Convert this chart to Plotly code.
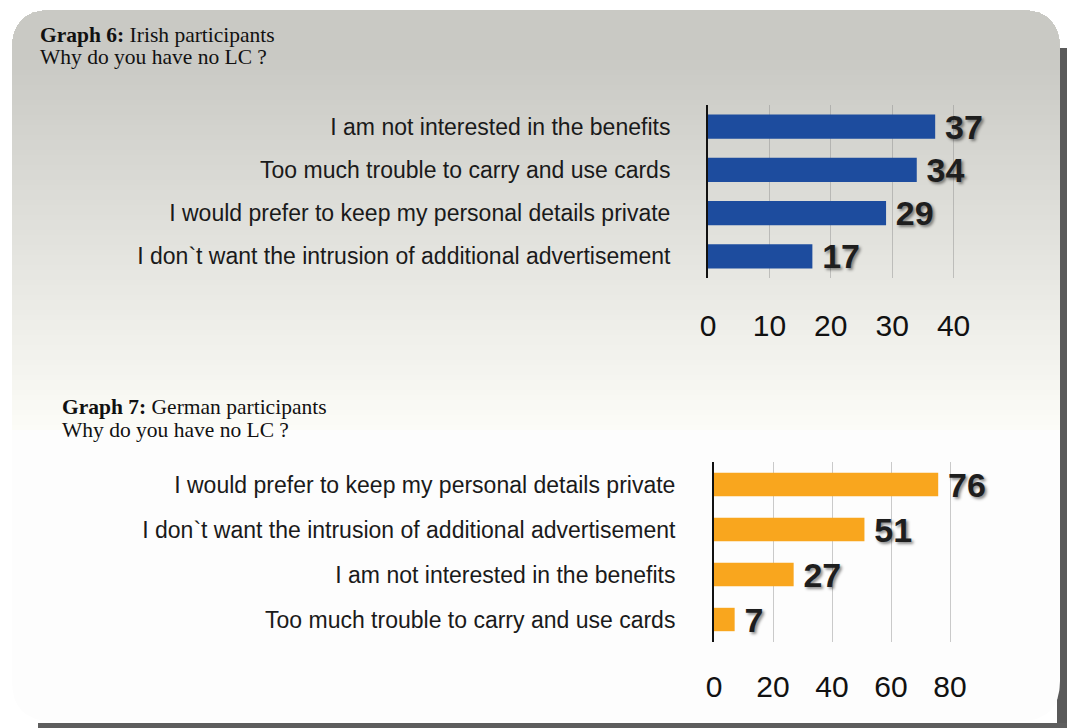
import plotly.graph_objects as go
import numpy as np

# ---- data ----
irish_reasons = [
    "I am not interested in the benefits",
    "Too much trouble to carry and use cards",
    "I would prefer to keep my personal details private",
    "I don`t want the intrusion of additional advertisement",
]
irish_values = [37, 34, 29, 17]
irish_ticks = [0, 10, 20, 30, 40]

german_reasons = [
    "I would prefer to keep my personal details private",
    "I don`t want the intrusion of additional advertisement",
    "I am not interested in the benefits",
    "Too much trouble to carry and use cards",
]
german_values = [76, 51, 27, 7]
german_ticks = [0, 20, 40, 60, 80]

W, H = 1067, 728


def fx(px):
    return px / W


def fy(py):
    return 1 - py / H


BLUE = "#1d4c9e"
ORANGE = "#f9a61e"
SANS = "Liberation Sans, Arial, sans-serif"
SERIF = "Liberation Serif, Times New Roman, serif"

valfont = dict(family=SANS, size=34, color="#1e1e1e", weight="bold",
               shadow="2px 2px 3px rgba(0,0,0,0.45)")

fig = go.Figure()

fig.add_trace(go.Bar(
    x=irish_values, y=irish_reasons, orientation="h",
    marker=dict(color=BLUE, line=dict(width=0)), width=0.56,
    text=irish_values, texttemplate="\u2009%{x}", textposition="outside",
    constraintext="none", cliponaxis=False, textfont=valfont,
    xaxis="x", yaxis="y", showlegend=False, hoverinfo="x+y",
))
fig.add_trace(go.Bar(
    x=german_values, y=german_reasons, orientation="h",
    marker=dict(color=ORANGE, line=dict(width=0)), width=0.52,
    text=german_values, texttemplate="\u2009%{x}", textposition="outside",
    constraintext="none", cliponaxis=False, textfont=valfont,
    xaxis="x2", yaxis="y2", showlegend=False, hoverinfo="x+y",
))

grid = "rgba(140,140,140,0.45)"
tickfont = dict(family=SANS, size=30, color="#111111")
catfont = dict(family=SANS, size=23, color="#1a1a1a")

fig.update_layout(
    width=W, height=H,
    margin=dict(l=0, r=0, t=0, b=0, autoexpand=False),
    paper_bgcolor="white", plot_bgcolor="rgba(0,0,0,0)",
    xaxis=dict(domain=[fx(708), fx(1015)], range=[0, 50], automargin=False,
               tickvals=irish_ticks, showgrid=True, gridcolor=grid, gridwidth=1,
               zeroline=False, showline=False,
               ticks="outside", ticklen=21, tickcolor="rgba(0,0,0,0)",
               tickfont=tickfont, anchor="y"),
    yaxis=dict(domain=[fy(278), fy(105)], range=[3.5, -0.5], automargin=False,
               categoryorder="array", categoryarray=irish_reasons,
               showline=True, linecolor="#111111", linewidth=2,
               showgrid=False, ticks="outside", ticklen=31,
               tickcolor="rgba(0,0,0,0)", tickfont=catfont, anchor="x"),
    xaxis2=dict(domain=[fx(714), fx(1009)], range=[0, 100], automargin=False,
                tickvals=german_ticks, showgrid=True, gridcolor=grid, gridwidth=1,
                zeroline=False, showline=False,
                ticks="outside", ticklen=18, tickcolor="rgba(0,0,0,0)",
                tickfont=tickfont, anchor="y2"),
    yaxis2=dict(domain=[fy(642), fy(462)], range=[3.5, -0.5], automargin=False,
                categoryorder="array", categoryarray=german_reasons,
                showline=True, linecolor="#111111", linewidth=2,
                showgrid=False, ticks="outside", ticklen=32,
                tickcolor="rgba(0,0,0,0)", tickfont=catfont, anchor="x2"),
)

# ---- card background: rounded panel with a grey wash fading downwards ----
x0, x1, y0, y1, r = 12, 1060, 10, 721, 40


def card_path(top, bottom, round_bottom):
    p = (f"M {fx(x0)},{fy(top + r)} "
         f"Q {fx(x0)},{fy(top)} {fx(x0 + r)},{fy(top)} "
         f"L {fx(x1 - r)},{fy(top)} "
         f"Q {fx(x1)},{fy(top)} {fx(x1)},{fy(top + r)} ")
    if round_bottom:
        p += (f"L {fx(x1)},{fy(bottom - r)} "
              f"Q {fx(x1)},{fy(bottom)} {fx(x1 - r)},{fy(bottom)} "
              f"L {fx(x0 + r)},{fy(bottom)} "
              f"Q {fx(x0)},{fy(bottom)} {fx(x0)},{fy(bottom - r)} Z")
    else:
        p += f"L {fx(x1)},{fy(bottom)} L {fx(x0)},{fy(bottom)} Z"
    return p


shapes = []
# dark edges of the page behind the card
shapes.append(dict(type="rect", xref="paper", yref="paper", layer="below",
                   x0=fx(1057), x1=1, y0=0, y1=fy(48),
                   fillcolor="#5a5a5a", line=dict(width=0)))
shapes.append(dict(type="rect", xref="paper", yref="paper", layer="below",
                   x0=fx(38), x1=1, y0=0, y1=fy(723),
                   fillcolor="#5e5e5e", line=dict(width=0)))
shapes.append(dict(type="path", xref="paper", yref="paper", layer="below",
                   path=card_path(y0, y1, True),
                   fillcolor="#fdfdfd", line=dict(width=0)))
# grey wash: nested panels, lightest (tallest) first, darkest (shortest) last
for b in np.linspace(430, 60, 75):
    t = (b - y0) / (430 - y0)
    g = int(round(194 + 58 * t))
    shapes.append(dict(type="path", xref="paper", yref="paper", layer="below",
                       path=card_path(y0, float(b), False),
                       fillcolor=f"rgb({g},{g},{g - 5})", line=dict(width=0)))
fig.update_layout(shapes=shapes)

# ---- titles ----
titles = [
    (38, 35, "<b>Graph 6:</b> Irish participants"),
    (38, 57, "Why do you have no LC ?"),
    (60, 407, "<b>Graph 7:</b> German participants"),
    (60, 430, "Why do you have no LC ?"),
]
for tx, ty, txt in titles:
    fig.add_annotation(x=fx(tx), y=fy(ty), xref="paper", yref="paper",
                       text=txt, showarrow=False, xanchor="left", yanchor="middle",
                       font=dict(family=SERIF, size=21.5, color="#111111"))

fig.write_html("out.html")
